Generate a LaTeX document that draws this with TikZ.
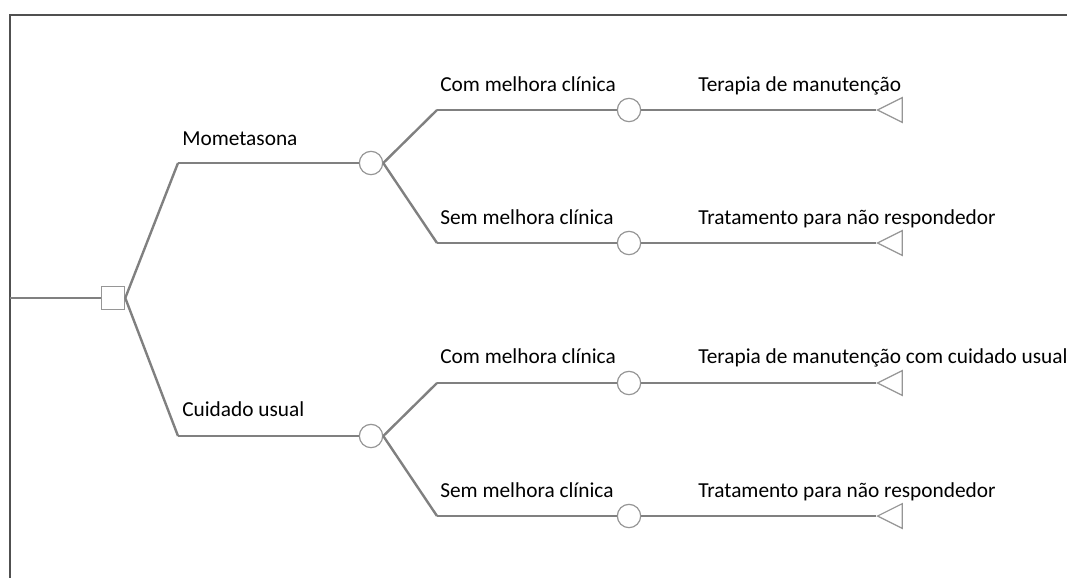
\documentclass[tikz,border=0pt]{standalone}
\usepackage{fontspec}
\setmainfont{Carlito}
\usetikzlibrary{shapes.geometric}
\definecolor{branchgray}{RGB}{128,128,128}
\definecolor{nodegray}{RGB}{150,150,150}
\definecolor{framegray}{RGB}{80,80,80}
\begin{document}
\begin{tikzpicture}[x=0.75pt,y=-0.75pt,
    branch/.style={draw=branchgray,line width=1.8pt},
    decision node/.style={rectangle,draw=nodegray,line width=0.9pt,fill=white,minimum size=17.5pt,inner sep=0pt},
    chance node/.style={circle,draw=nodegray,line width=0.9pt,fill=white,minimum size=17.5pt,inner sep=0pt},
    end node/.style={isosceles triangle,shape border rotate=180,isosceles triangle stretches,draw=nodegray,line width=0.9pt,fill=white,minimum width=18.5pt,minimum height=18.5pt,inner sep=0pt},
    label text/.style={anchor=base west,inner sep=0pt,font=\fontsize{16}{19}\selectfont}]
                \useasboundingbox (0,0) rectangle (1067,578);
                \draw[framegray,line width=1.5pt] (10,578) -- (10,15) -- (1067,15);

                \coordinate (root) at (10, 298);
                \node[decision node] at (113, 298) (d) {};
                \coordinate (mom) at (178, 163);
                \coordinate (usu) at (178, 436);
                \node[chance node] at (371, 163) (c1) {};
                \node[chance node] at (371, 436) (c2) {};
                \coordinate (m1) at (437, 110);
                \coordinate (m2) at (437, 243);
                \coordinate (u1) at (437, 383);
                \coordinate (u2) at (437, 516);
                \node[chance node] at (629, 110) (c11) {};
                \node[chance node] at (629, 243) (c12) {};
                \node[chance node] at (629, 383) (c21) {};
                \node[chance node] at (629, 516) (c22) {};
                \node[end node,anchor=apex] at (876, 110) (t11) {};
                \node[end node,anchor=apex] at (876, 243) (t12) {};
                \node[end node,anchor=apex] at (876, 383) (t21) {};
                \node[end node,anchor=apex] at (876, 516) (t22) {};

                \path[branch]
                    (root) edge (d)
                    (d.east) edge (mom)
                    (mom) edge (c1)
                    (d.east) edge (usu)
                    (usu) edge (c2)
                    (c1.east) edge (m1)
                    (m1) edge (c11)
                    (c1.east) edge (m2)
                    (m2) edge (c12)
                    (c2.east) edge (u1)
                    (u1) edge (c21)
                    (c2.east) edge (u2)
                    (u2) edge (c22)
                    (c11) edge (t11.apex)
                    (c12) edge (t12.apex)
                    (c21) edge (t21.apex)
                    (c22) edge (t22.apex)
                    ;

                \node[label text] at (182, 145) (lmom) {Mometasona};
                \node[label text] at (182, 416) (lusu) {Cuidado usual};
                \node[label text] at (440, 91) (lm1) {Com melhora clínica};
                \node[label text] at (440, 224) (lm2) {Sem melhora clínica};
                \node[label text] at (440, 363) (lu1) {Com melhora clínica};
                \node[label text] at (440, 497) (lu2) {Sem melhora clínica};
                \node[label text] at (698, 91) (lt11) {Terapia de manutenção};
                \node[label text] at (698, 224) (lt12) {Tratamento para não respondedor};
                \node[label text] at (698, 363) (lt21) {Terapia de manutenção com cuidado usual};
                \node[label text] at (698, 497) (lt22) {Tratamento para não respondedor};
            \end{tikzpicture}
\end{document}
